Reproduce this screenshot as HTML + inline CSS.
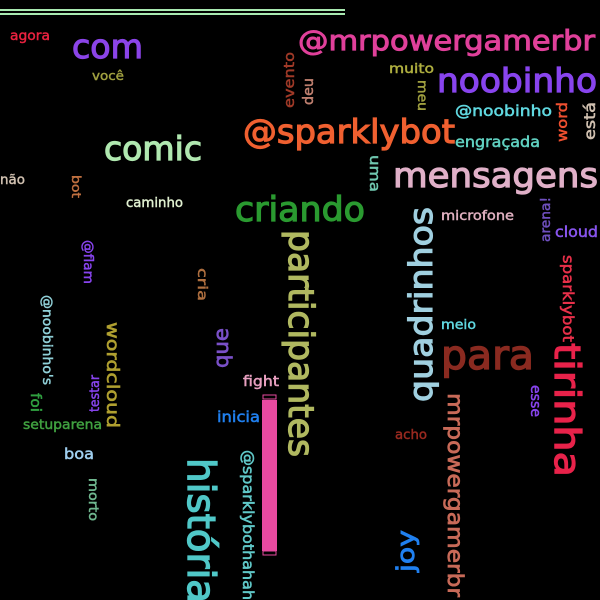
<!DOCTYPE html>
<html><head><meta charset="utf-8">
<style>
html,body{margin:0;padding:0;background:#000;width:600px;height:600px;overflow:hidden}
svg{display:block}
text{font-family:"DejaVu Sans","Liberation Sans",sans-serif;font-weight:normal}
</style></head>
<body>
<svg id="cloud" width="600" height="600" viewBox="0 0 600 600">
<rect x="0" y="0" width="600" height="600" fill="#000"/>
<rect x="0" y="9" width="345" height="2" fill="#a8e8b0"/>
<rect x="0" y="13" width="345" height="2" fill="#a8e8b0"/>
<rect x="262" y="400" width="15" height="151" fill="#e84aa0"/>
<rect x="263" y="395" width="13" height="4" fill="none" stroke="#e84aa0" stroke-width="1"/>
<rect x="263" y="551" width="13" height="4" fill="none" stroke="#e84aa0" stroke-width="1"/>
</svg>
<script>
// words: text, x, baseline/start y, font size, length, rotation, colour
const words = ["agora","com","@mrpowergamerbr","você","muito","noobinho","@noobinho","@sparklybot","engraçada","comic","mensagens","não","caminho","criando","microfone","cloud","meio","para","fight","inicia","setuparena","acho","boa",
"participantes","história","@sparklybothahahah","mrpowergamerbr","tirinha","sparklybot","esse","meu","uma","wordcloud","@noobinho's","@flam","bot","cria","foi","morto",
"quadrinhos","joy","arena!","que","testar","evento","deu","word","está"];
const xs = [10,72,298,92,389,437,455,243,455,104,393,0,126,235,441,555,441,441,243,217,23,395,64,
289,188,243,448,555,563,531,418,370,107,43,84,72,198,31,89,
432,414,550,228,99,294,313,567,595];
const ys = [40,58,50,80,73,92,116,143,147,160,187,184,207,221,220,237,329,369,386,422,429,439,459,
230,458,450,393,343,255,385,80,155,322,295,240,175,268,393,478,
402,572,242,368,412,108,105,142,140];
const sizes = [13,33,28,12,13,33,15,33,15,33,34,13,13,34,13,15,13,40,14,15,13,13,15,
35,38,15,21,36,15,14,13,14,17,13,13,12,13,14,13,
32,24,13,20,13,14,14,14,15];
const lens = [40,71,297,32,45,160,97,212,85,98,205,25,57,130,73,43,35,93,36,43,79,32,30,
227,145,170,204,134,87,32,31,37,106,90,44,23,33,19,43,
195,42,45,40,37,56,27,40,38];
const rots = [0,0,0,0,0,0,0,0,0,0,0,0,0,0,0,0,0,0,0,0,0,0,0,
90,90,90,90,90,90,90,90,90,90,90,90,90,90,90,90,
-90,-90,-90,-90,-90,-90,-90,-90,-90];
const colors = ["#e8223f","#8b44e8","#e0409a","#a0a040","#b0b040","#8844ee","#60d8e0","#f06030","#60d0c0","#b0e8b0","#e0b0c8","#d0c0b0","#e0f0d0","#2a9a30","#e0b0c0","#8855ee","#60d8e0","#8a2a20","#e8a0c0","#2080f0","#40a040","#9a2a20","#a0d0f0",
"#b0b860","#50c8c8","#60c8c8","#c86a58","#e8224a","#e8304a","#8844ee","#a0a040","#70c8b0","#b0a030","#90d0d8","#8844ee","#c07040","#b07040","#30a040","#70b890",
"#a0d0e0","#2080f0","#7050c0","#7a50c8","#8844ee","#a03a28","#c08070","#f05030","#d0c0b0"];
const svg = document.getElementById('cloud');
const NS = 'http://www.w3.org/2000/svg';
for (let i = 0; i < words.length; i++) {
  const t = document.createElementNS(NS, 'text');
  t.setAttribute('x', xs[i]);
  t.setAttribute('y', ys[i]);
  t.setAttribute('font-size', sizes[i]);
  t.setAttribute('fill', colors[i]);
  t.setAttribute('stroke', colors[i]);
  t.setAttribute('stroke-width', (sizes[i] * 0.035).toFixed(2));
  t.setAttribute('textLength', lens[i]);
  t.setAttribute('lengthAdjust', 'spacingAndGlyphs');
  if (rots[i] !== 0) {
    t.setAttribute('transform', 'rotate(' + rots[i] + ' ' + xs[i] + ' ' + ys[i] + ')');
  }
  t.textContent = words[i];
  
  
  svg.appendChild(t);
}
</script>
</body></html>
